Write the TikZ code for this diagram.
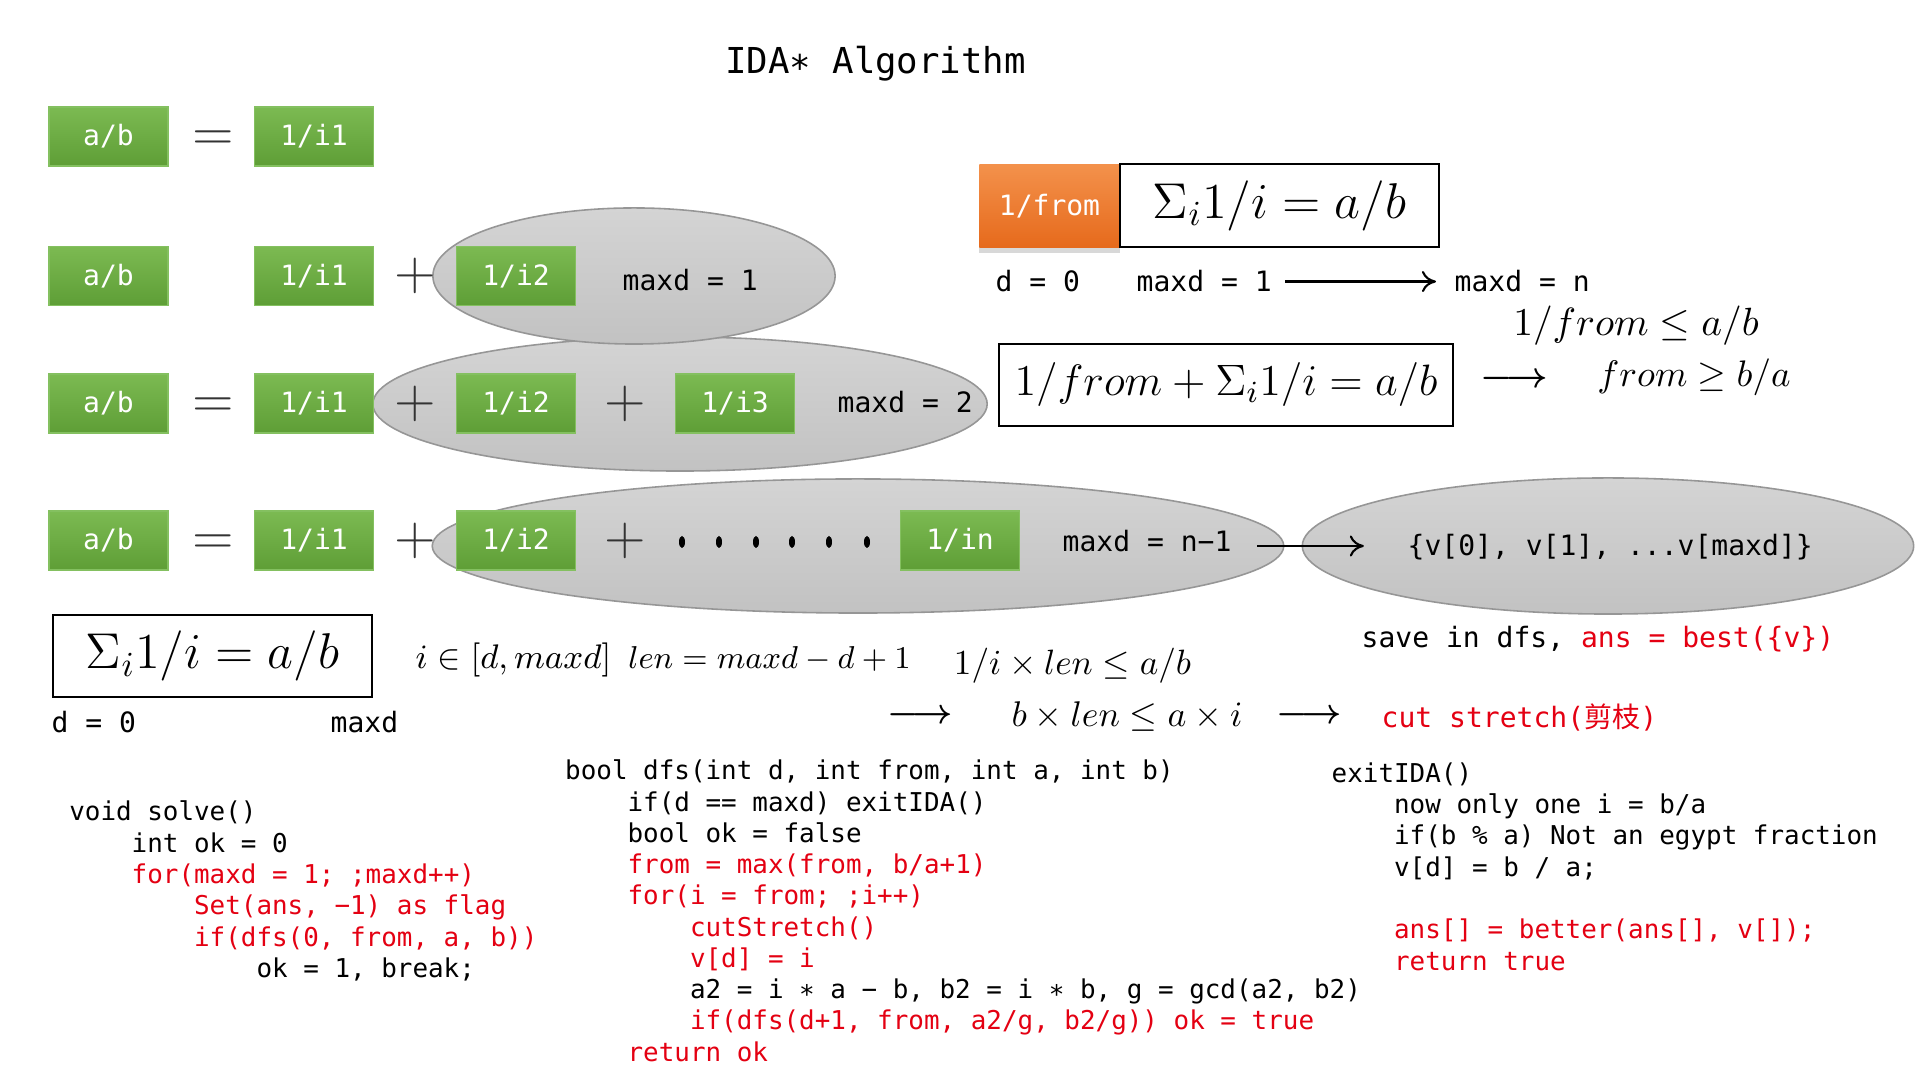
\RequirePackage{fix-cm}
\documentclass[tikz,border=0pt]{standalone}
\usepackage{fontspec}
\usetikzlibrary{shapes.geometric,arrows.meta,shadows}
\newfontfamily\dvmono{DejaVu Sans Mono}
\newfontfamily\cjkfont{Noto Sans CJK SC}
\definecolor{cred}{RGB}{228,0,18}
\definecolor{gtop}{RGB}{124,186,82}
\definecolor{gbot}{RGB}{94,158,54}
\definecolor{gline}{RGB}{132,192,96}
\definecolor{otop}{RGB}{243,145,75}
\definecolor{obot}{RGB}{230,106,28}
\definecolor{etop}{RGB}{212,212,212}
\definecolor{ebot}{RGB}{194,194,194}
\definecolor{eline}{RGB}{150,150,150}
\newcommand\fsA{\dvmono\fontsize{7.97}{9}\selectfont}
\newcommand\fsC{\dvmono\fontsize{7.37}{8.9}\selectfont}
\newcommand\fsT{\dvmono\fontsize{10.15}{12}\selectfont}
\newcommand\msz[1]{\fontsize{#1}{#1}\selectfont}
\begin{document}
\begin{tikzpicture}[x=0.01cm,y=-0.01cm,
  gbox/.style={rectangle, minimum width=1.19cm, minimum height=0.59cm, inner sep=0pt, outer sep=0pt,
    top color=gtop, bottom color=gbot, draw=gline, line width=0.4pt, text=white, font=\fsA},
  ell/.style={ellipse, inner sep=0pt, outer sep=0pt, draw=eline, line width=0.45pt, top color=etop, bottom color=ebot},
  op/.style={anchor=base, inner sep=0pt, font={\msz{15.5}}, text=black!80},
  mt/.style={anchor=base west, inner sep=0pt, font=\fsA},
  cd/.style={anchor=base west, inner sep=0pt, font=\fsC},
  fbox/.style={rectangle, draw=black, line width=0.65pt, inner sep=0pt},
  mth/.style={anchor=base, inner sep=0pt},
  arr/.style={line width=0.6pt, -{To[length=4pt,width=6pt]}}
]
\useasboundingbox[fill=white] (0,0) rectangle (1920,1080);

% title
\node[anchor=base, inner sep=0pt, font=\fsT] (title) at (875.5,74) {IDA∗ Algorithm};

% ellipses
\node[ell, minimum width=6.14cm, minimum height=1.34cm] (e2) at (680,404) {};
\node[ell, minimum width=4.02cm, minimum height=1.36cm] (e1) at (634,276) {};
\node[ell, minimum width=8.51cm, minimum height=1.34cm] (e3) at (858,546) {};
\node[ell, minimum width=6.11cm, minimum height=1.36cm] (e4) at (1608,546) {};

% row 1
\node[gbox] (r1a) at (108.5,136.5) {a/b};
\node[op] (r1eq) at (213,150.1) {$=$};
\node[gbox] (r1b) at (314,136.5) {1/i1};

% row 2
\node[gbox] (r2a) at (108.5,276) {a/b};
\node[gbox] (r2b) at (314,276) {1/i1};
\node[op] (r2p1) at (415,289.6) {$+$};
\node[gbox] (r2c) at (516,276) {1/i2};
\node[mt] (m1) at (622,291) {maxd = 1};

% row 3
\node[gbox] (r3a) at (108.5,403.5) {a/b};
\node[op] (r3eq) at (213,417.1) {$=$};
\node[gbox] (r3b) at (314,403.5) {1/i1};
\node[op] (r3p1) at (415,417.1) {$+$};
\node[gbox] (r3c) at (516,403.5) {1/i2};
\node[op] (r3p2) at (625,417.1) {$+$};
\node[gbox] (r3d) at (735,403.5) {1/i3};
\node[mt] (m2) at (837,413) {maxd = 2};

% row 4
\node[gbox] (r4a) at (108.5,540.5) {a/b};
\node[op] (r4eq) at (213,554.1) {$=$};
\node[gbox] (r4b) at (314,540.5) {1/i1};
\node[op] (r4p1) at (415,554.1) {$+$};
\node[gbox] (r4c) at (516,540.5) {1/i2};
\node[op] (r4p2) at (625,554.1) {$+$};
\foreach \x in {682,719,756,792,829,867}
  \fill (\x,542) ellipse [x radius=3, y radius=6];
\node[gbox] (r4d) at (960,540.5) {1/in};
\node[mt] (m3) at (1062,552) {maxd = n−1};
\node[mt] (vt) at (1407,555.5) {\{v[0], v[1], ...v[maxd]\}};
\draw[arr, shorten <=0.25cm, shorten >=-0.615cm] (m3.east |- e4.center) -- (e4.west);
\node[mt] (sv) at (1361,648) {save in dfs, \textcolor{cred}{ans = best(\{v\})}};

% top right
\node[rectangle, minimum width=1.40cm, minimum height=0.82cm, inner sep=0pt,
  top color=otop, bottom color=obot, text=white, font=\fsA,
  drop shadow={shadow xshift=0pt, shadow yshift=-0.06cm, opacity=0.3}] (ofrom) at (1049.5,206) {1/from};
\node[fbox, minimum width=3.19cm, minimum height=0.83cm, font={\msz{14.3}}] (fb1) at (1279.5,205.5) {$\Sigma_i 1/i = a/b$};
\node[mt] (td) at (995,292) {d = 0};
\node[mt] (tm1) at (1136,292) {maxd = 1};
\node[mt] (tmn) at (1454,292) {maxd = n};
\draw[arr, shorten <=0.13cm, shorten >=0.18cm] (tm1.east) -- (tmn.west);
\node[mth, font={\msz{11.2}}] (le) at (1636,336) {$1/from \le a/b$};
\node[fbox, minimum width=4.54cm, minimum height=0.82cm, font={\msz{12.5}}] (fb2) at (1226,385) {$1/from + \Sigma_i 1/i = a/b$};
\node[mth, font={\msz{10.3}\boldmath}] (ar0) at (1514.5,388) {$\longrightarrow$};
\node[mth, font={\msz{10.5}}] (ge) at (1694,387) {$from \ge b/a$};

% bottom formulas
\node[fbox, minimum width=3.19cm, minimum height=0.82cm, font={\msz{14.3}}] (fb3) at (212.5,656) {$\Sigma_i 1/i = a/b$};
\node[mt] (bd) at (51,733) {d = 0};
\node[mt] (bm) at (330,733) {maxd};
\node[mth, font={\msz{9.7}}] (rng) at (513.5,669) {$i \in [d, maxd]$};
\node[mth, font={\msz{9}}] (len) at (769.5,669) {$len = maxd - d + 1$};
\node[mth, font={\msz{10}}] (iq1) at (1072.5,675) {$1/i \times len \le a/b$};
\node[mth, font={\msz{10}\boldmath}] (ar1) at (920.5,724) {$\longrightarrow$};
\node[mth, font={\msz{10.15}}] (iq2) at (1127,727) {$b \times len \le a \times i$};
\node[mth, font={\msz{10}\boldmath}] (ar2) at (1309.5,724) {$\longrightarrow$};
\node[mt, text=cred] (cut) at (1381,728) {cut stretch({\cjkfont 剪枝})};

% solve()
\node[cd] (s1) at (68.6,821) {void solve()};
\node[cd] (s2) at (131,852.3) {int ok = 0};
\node[cd, text=cred] (s3) at (131,883.6) {for(maxd = 1; ;maxd++)};
\node[cd, text=cred] (s4) at (193.4,914.9) {Set(ans, −1) as flag};
\node[cd, text=cred] (s5) at (193.4,946.2) {if(dfs(0, from, a, b))};
\node[cd] (s6) at (255.8,977.5) {ok = 1, break;};

% dfs()
\node[cd] (d1) at (564.5,780) {bool dfs(int d, int from, int a, int b)};
\node[cd] (d2) at (626.9,811.25) {if(d == maxd) exitIDA()};
\node[cd] (d3) at (626.9,842.5) {bool ok = false};
\node[cd, text=cred] (d4) at (626.9,873.75) {from = max(from, b/a+1)};
\node[cd, text=cred] (d5) at (626.9,905) {for(i = from; ;i++)};
\node[cd, text=cred] (d6) at (689.3,936.25) {cutStretch()};
\node[cd, text=cred] (d7) at (689.3,967.5) {v[d] = i};
\node[cd] (d8) at (689.3,998.75) {a2 = i ∗ a − b, b2 = i ∗ b, g = gcd(a2, b2)};
\node[cd, text=cred] (d9) at (689.3,1030) {if(dfs(d+1, from, a2/g, b2/g)) ok = true};
\node[cd, text=cred] (d10) at (626.9,1061.25) {return ok};

% exitIDA()
\node[cd] (x1) at (1331,782.5) {exitIDA()};
\node[cd] (x2) at (1393.4,813.8) {now only one i = b/a};
\node[cd] (x3) at (1393.4,845) {if(b \% a) Not an egypt fraction};
\node[cd] (x4) at (1393.4,876.3) {v[d] = b / a;};
\node[cd, text=cred] (x5) at (1393.4,938.8) {ans[] = better(ans[], v[]);};
\node[cd, text=cred] (x6) at (1393.4,970.1) {return true};
\end{tikzpicture}
\end{document}
